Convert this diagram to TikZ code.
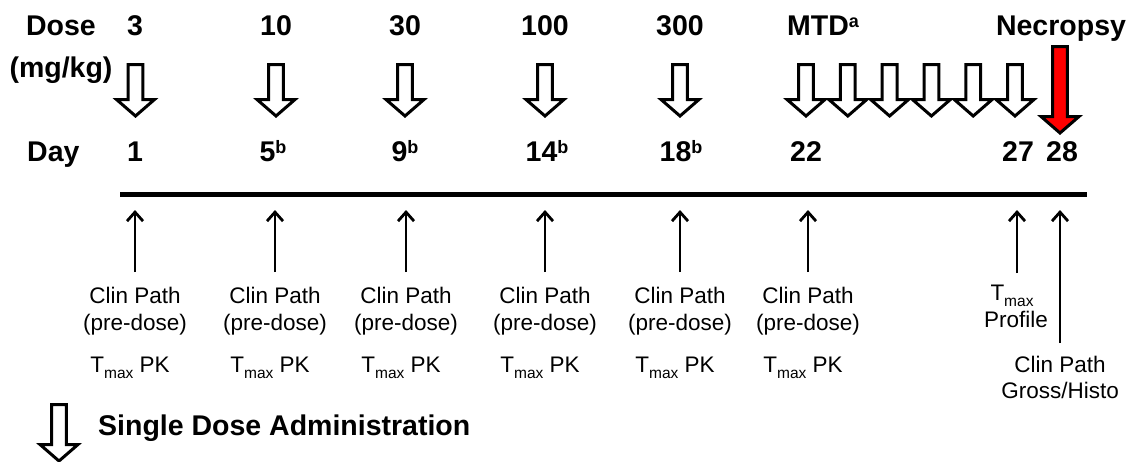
\documentclass[tikz,border=0pt]{standalone}
\usepackage{fontspec}
\setmainfont{Liberation Sans}
\usetikzlibrary{arrows.meta}
\definecolor{necred}{RGB}{255,0,0}
% small raised / lowered marks (footnote letters, T subscript)
\newcommand\upmark[1]{\raisebox{7.5pt}{\fontsize{18}{18}\selectfont\bfseries #1}}
\newcommand\lowmark[1]{\raisebox{-6pt}{\fontsize{15.5}{15.5}\selectfont #1}}
\begin{document}
\begin{tikzpicture}[x=1pt,y=-1pt,
  big/.style={font=\fontsize{28.5}{34}\selectfont\bfseries, inner sep=0pt},
  lbl/.style={font=\fontsize{22.5}{27}\selectfont, inner sep=0pt},
  thinarrow/.style={line width=2.8pt, -{Straight Barb[length=9pt,width=16pt]}},
  pics/blockarrow/.style 2 args={code={
    \draw[line width=3pt, line join=miter, fill=#2]
      (-7.4,0) -- (-7.4,#1) -- (-19,#1) -- (0,#1+16.5) -- (19,#1) -- (7.4,#1) -- (7.4,0) -- cycle;
  }}]
\useasboundingbox (0,0) rectangle (1131,461);

% row headers
\node[big, anchor=base] (dose) at (61,35) {Dose};
\node[big, anchor=base] (unit) at (61,77) {(mg/kg)};
\node[big, anchor=base west] (day) at (27,161) {Day};

% dose levels
\node[big, anchor=base] (d1) at (135,35) {3};
\node[big, anchor=base] (d2) at (276,35) {10};
\node[big, anchor=base] (d3) at (405,35) {30};
\node[big, anchor=base] (d4) at (545,35) {100};
\node[big, anchor=base] (d5) at (680,35) {300};
\node[big, anchor=base west] (d6) at (787,35) {MTD\upmark{a}};
\node[big, anchor=base] (necro) at (1061,35) {Necropsy};

% study days
\node[big, anchor=base] (y1) at (135,161) {1};
\node[big, anchor=base] (y2) at (273,161) {5\upmark{b}};
\node[big, anchor=base] (y3) at (405,161) {9\upmark{b}};
\node[big, anchor=base] (y4) at (547,161) {14\upmark{b}};
\node[big, anchor=base] (y5) at (681,161) {18\upmark{b}};
\node[big, anchor=base] (y6) at (806,161) {22};
\node[big, anchor=base] (y7) at (1018,161) {27};
\node[big, anchor=base] (y8) at (1062,161) {28};

% single dose administrations
\foreach \x in {135.5,276,405,545,680}
  \pic at (\x,64.5) {blockarrow={35}{white}};
\foreach \i in {0,...,5}
  \pic at (806+41.8*\i,64.5) {blockarrow={35}{white}};
% necropsy
\pic at (1060,46.5) {blockarrow={70}{necred}};

% time line
\coordinate (tl0) at (120,194.5);
\coordinate (tl1) at (1087,194.5);
\draw[line width=5pt] (tl0) -- (tl1);

% sampling points with pre-dose clinical pathology and PK
\foreach \n/\x in {1/135,2/275,3/406,4/545,5/680,6/808} {
  \coordinate (tip\n) at (\x,210);
  \coordinate (foot\n) at (\x,272);
  \draw[thinarrow] (foot\n) -- (tip\n);
  \node[lbl, anchor=base] (cp\n) at (\x,303) {Clin Path};
  \node[lbl, anchor=base] (pd\n) at (\x,330) {(pre-dose)};
  \node[lbl, anchor=base] (pk\n) at (\x-5,372) {T\lowmark{max} PK};
}

% Tmax profile on day 27
\coordinate (tip7) at (1017,210);
\coordinate (foot7) at (1017,273);
\draw[thinarrow] (foot7) -- (tip7);
\node[lbl, anchor=base] (tm7) at (1012,300) {T\lowmark{max}};
\node[lbl, anchor=base] (pr7) at (1016,327) {Profile};

% terminal evaluations on day 28
\coordinate (tip8) at (1060,210);
\coordinate (foot8) at (1060,343);
\draw[thinarrow] (foot8) -- (tip8);
\node[lbl, anchor=base] (cp8) at (1060,372) {Clin Path};
\node[lbl, anchor=base] (gh8) at (1060,398) {Gross/Histo};

% legend
\pic at (59,404.5) {blockarrow={40}{white}};
\node[big, anchor=base west] (legend) at (98,435) {Single Dose Administration};
\end{tikzpicture}
\end{document}
